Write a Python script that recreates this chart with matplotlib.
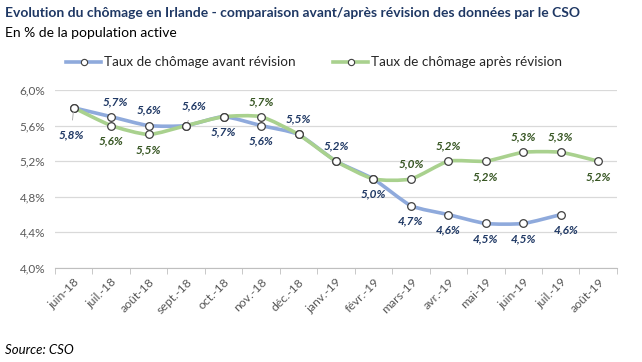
import numpy as np
import matplotlib.pyplot as plt
from matplotlib.path import Path
from matplotlib.patches import PathPatch
from matplotlib.lines import Line2D

plt.rcParams['font.family'] = ['Lato', 'DejaVu Sans']

months = ['juin-18', 'juil.-18', 'août-18', 'sept.-18', 'oct.-18', 'nov.-18', 'déc.-18',
          'janv.-19', 'févr.-19', 'mars-19', 'avr.-19', 'mai-19', 'juin-19', 'juil.-19', 'août-19']
avant = [5.8, 5.7, 5.6, 5.6, 5.7, 5.6, 5.5, 5.2, 5.0, 4.7, 4.6, 4.5, 4.5, 4.6, np.nan]
apres = [5.8, 5.6, 5.5, 5.6, 5.7, 5.7, 5.5, 5.2, 5.0, 5.0, 5.2, 5.2, 5.3, 5.3, 5.2]

# label placement: +1 above, -1 below, 0 hidden
avant_pos = [-1.8, 1, 1, 1.3, -1, -1, 1, 1, -1, -1, -1, -1, -1, -1, 0]
apres_pos = [0, -1, -1, 0, 0, 1, 0, 0, 0, 1, 1, -1, 1, 1, -1]
avant_dx = [-2, 3, 0, 6, 0, 0, 0, 0, 0, 0, 0, 0, 0, 4, 0]

blue = '#8FAADC'
green = '#A9D18E'
navy = '#1F3864'
dkgreen = '#375623'


def smooth_path(xs, ys, k=0.1):
    # Excel-like smoothed line: Catmull-Rom segments drawn as cubic Bezier curves
    pts = np.column_stack([xs, ys])
    pts = pts[~np.isnan(pts[:, 1])]
    verts = [pts[0]]
    codes = [Path.MOVETO]
    n = len(pts)
    for i in range(n - 1):
        p0 = pts[i - 1] if i > 0 else pts[i]
        p1, p2 = pts[i], pts[i + 1]
        p3 = pts[i + 2] if i + 2 < n else pts[i + 1]
        c1 = p1 + (p2 - p0) * k
        c2 = p2 - (p3 - p1) * k
        verts += [c1, c2, p2]
        codes += [Path.CURVE4] * 3
    return Path(verts, codes)


fig = plt.figure(figsize=(6.42, 3.62), dpi=100)
ax = fig.add_axes([0.0857, 0.2597, 0.8753, 0.4917])

x = np.arange(len(months))
for vals, col in ((avant, blue), (apres, green)):
    ax.add_patch(PathPatch(smooth_path(x, np.array(vals)), fill=False, edgecolor=col,
                           lw=2.6, capstyle='round', zorder=3))
    ax.plot(x, vals, ls='none', marker='o', ms=5.5, mfc='white', mec='#404040', mew=0.9, zorder=4)


def fmt(v):
    return f'{v:.1f}'.replace('.', ',') + '%'


for i in range(len(months)):
    for vals, pos, col, dxs in ((avant, avant_pos, navy, avant_dx), (apres, apres_pos, dkgreen, None)):
        p = pos[i]
        if p == 0 or np.isnan(vals[i]):
            continue
        dx = dxs[i] if dxs else 0
        arrow = None
        if abs(p) > 1.1:
            arrow = dict(arrowstyle='-', color='#A6A6A6', lw=0.6, shrinkA=5, shrinkB=3)
        ax.annotate(fmt(vals[i]), (x[i], vals[i]), xytext=(dx, 11 * p), textcoords='offset points',
                    ha='center', va='center', fontsize=8.5, fontweight='bold', style='italic',
                    color=col, zorder=5, arrowprops=arrow)

ax.set_xlim(-0.5, len(months) - 0.5)
ax.set_ylim(4.0, 6.0)
yt = np.arange(4.0, 6.01, 0.4)
ax.set_yticks(yt)
ax.set_yticklabels([fmt(v) for v in yt], fontsize=8.5, color='#595959')
ax.set_xticks(x)
ax.set_xticklabels(months, rotation=45, ha='right', rotation_mode='anchor', fontsize=8.8,
                   color='#595959')
ax.set_xticks(np.arange(-0.5, len(months), 1), minor=True)
ax.tick_params(axis='x', which='major', length=0, pad=6)
ax.tick_params(axis='x', which='minor', length=4, color='#BFBFBF')
ax.tick_params(axis='y', length=0, pad=7)
ax.grid(axis='y', color='#D9D9D9', lw=0.9)
ax.set_axisbelow(True)
for s in ['top', 'right', 'left']:
    ax.spines[s].set_visible(False)
ax.spines['bottom'].set_color('#BFBFBF')

fig.text(0.008, 0.965, 'Evolution du chômage en Irlande - comparaison avant/après révision des données par le CSO',
         fontsize=10, fontweight='bold', color='#1F3864', va='center')
fig.text(0.008, 0.908, 'En % de la population active', fontsize=10, color='black', va='center')
fig.text(0.008, 0.033, 'Source: CSO', fontsize=9.5, style='italic', color='black', va='center')

handles = [Line2D([], [], color=c, lw=2.6, marker='o', ms=4.5, mfc='white', mec='#404040', mew=0.8)
           for c in (blue, green)]
fig.legend(handles, ['Taux de chômage avant révision', 'Taux de chômage après révision'],
           loc='center', bbox_to_anchor=(0.489, 0.828), ncol=2, frameon=False, fontsize=9.7,
           handlelength=2.6, columnspacing=2.8, handletextpad=0.2, labelcolor='#262626')

fig.savefig('out.png', dpi=100)
